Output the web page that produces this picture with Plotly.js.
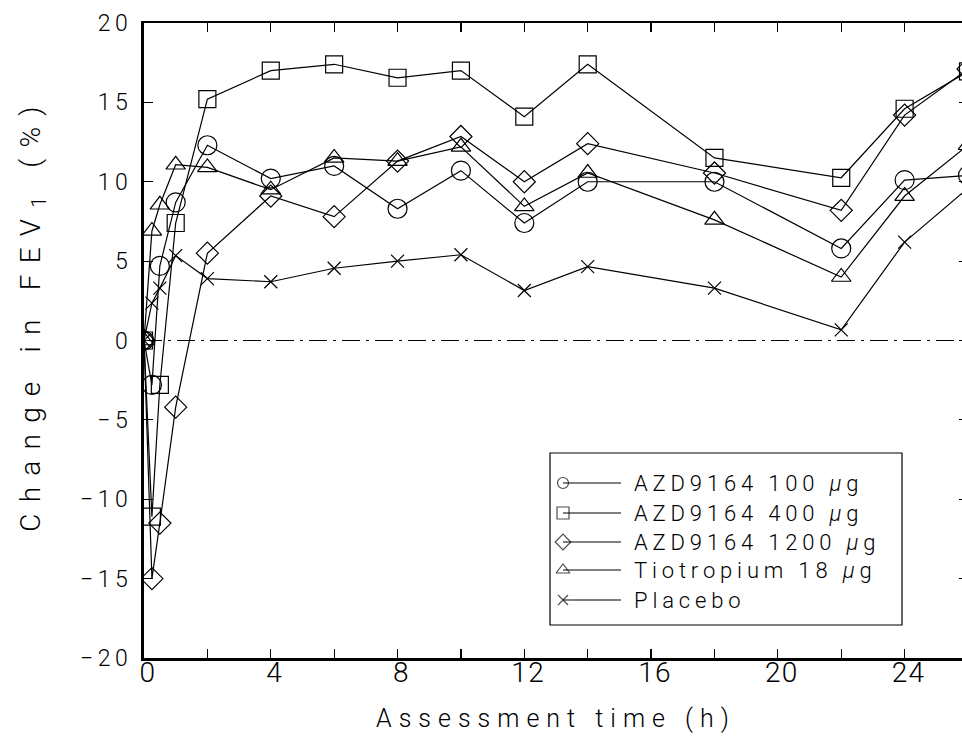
<!DOCTYPE html>
<html><head><meta charset="utf-8">
<script src="https://cdn.plot.ly/plotly-3.0.1.min.js"></script>
<style>
html,body{margin:0;padding:0;overflow:hidden;background:#fff;}
.ytick text{letter-spacing:0.2em;}
.xtick text{letter-spacing:0.05em;}
text.xtitle{letter-spacing:0.28em;}
text.ytitle{letter-spacing:0.4em;}
text.annotation-text{letter-spacing:0.22em;}
</style></head><body><div id="chart"></div>
<script>
// Assessment times (h)
const hours = [0, 0.25, 0.5, 1, 2, 4, 6, 8, 10, 12, 14, 18, 22, 24, 26];
// Change in FEV1 (%)
const azd100  = [0, -2.8, 4.7, 8.7, 12.3, 10.2, 11.0, 8.3, 10.7, 7.4, 10.0, 10.0, 5.8, 10.1, 10.4];
const azd400  = [0, -11.1, -2.8, 7.4, 15.2, 17.0, 17.4, 16.55, 17.0, 14.1, 17.4, 11.5, 10.25, 14.6, 16.95];
const azd1200 = [0, -15.0, -11.5, -4.2, 5.5, 9.1, 7.8, 11.3, 12.85, 10.0, 12.4, 10.55, 8.2, 14.2, 17.1];
const tiotropium = [0, 6.9, 8.55, 11.07, 10.9, 9.5, 11.5, 11.3, 12.2, 8.45, 10.55, 7.6, 4.0, 9.1, 12.3];
const placebo = [0, 2.35, 3.3, 5.35, 3.9, 3.7, 4.55, 5.0, 5.4, 3.15, 4.65, 3.3, 0.67, 6.2, 9.6];

const seriesNames = ['AZD9164 100 <i>μ</i>g', 'AZD9164 400 <i>μ</i>g', 'AZD9164 1200 <i>μ</i>g', 'Tiotropium 18 <i>μ</i>g', 'Placebo'];
const seriesValues = [azd100, azd400, azd1200, tiotropium, placebo];
const symbols = ['circle-open', 'square-open', 'diamond-open', 'triangle-up-open', 'x-thin-open'];
const plotSizes = [19, 17, 17, 17, 13];
const legendSizes = [11, 12, 12, 12, 10];

const traces = seriesValues.map((vals, i) => ({
  x: hours, y: vals, type: 'scatter', mode: 'lines+markers',
  name: seriesNames[i], showlegend: false,
  line: {color: '#000', width: 1.2},
  marker: {symbol: symbols[i], size: plotSizes[i], color: '#000', line: {color: '#000', width: 1.2}}
}));

// Hand-built legend, drawn on a hidden overlay axis measured in page pixels
const legRows = [483, 513, 542, 570, 600];
const annotations = [];
seriesNames.forEach((nm, i) => {
  traces.push({
    x: [563, 621], y: [legRows[i], legRows[i]], xaxis: 'x2', yaxis: 'y2',
    type: 'scatter', mode: 'lines+markers', showlegend: false, hoverinfo: 'skip', cliponaxis: false,
    line: {color: '#000', width: 1.2},
    marker: {symbol: symbols[i], size: [legendSizes[i], 0], color: '#000', line: {color: '#000', width: 1.2}}
  });
  annotations.push({
    xref: 'x2', yref: 'y2', x: 632, y: legRows[i], text: nm, showarrow: false,
    xanchor: 'left', yanchor: 'middle', align: 'left', font: {size: 22, color: '#000'}
  });
});

const layout = {
  width: 1010, height: 753,
  margin: {l: 144, r: 42, t: 23, b: 95},
  paper_bgcolor: '#fff', plot_bgcolor: '#fff',
  font: {family: 'Roboto, "Liberation Sans", sans-serif', weight: 300, color: '#000'},
  xaxis: {
    range: [0, 26], tickmode: 'linear', tick0: 0, dtick: 4,
    ticks: 'inside', ticklen: 9, tickwidth: 1.2, tickcolor: '#000',
    showline: true, linewidth: 2.5, linecolor: '#000', mirror: 'allticks',
    showgrid: false, zeroline: false,
    minor: {dtick: 2, ticks: 'inside', ticklen: 9, tickwidth: 1.2, tickcolor: '#000', showgrid: false},
    tickfont: {size: 28}, ticklabelstandoff: -12, ticklabelshift: 4,
    title: {text: 'Assessment time (h)', font: {size: 25}, standoff: 22}
  },
  yaxis: {
    range: [-20, 20], tickmode: 'linear', tick0: 0, dtick: 5,
    ticks: 'inside', ticklen: 9, tickwidth: 1.2, tickcolor: '#000',
    showline: true, linewidth: 3, linecolor: '#000', mirror: 'allticks',
    showgrid: false, zeroline: false,
    tickfont: {size: 23}, ticklabelstandoff: 4,
    title: {text: '&nbsp;&nbsp;&nbsp;Change in FEV<sub>1</sub> (%)', font: {size: 28}, standoff: 32}
  },
  xaxis2: {overlaying: 'x', anchor: 'y2', range: [144, 968], visible: false, fixedrange: true},
  yaxis2: {overlaying: 'y', anchor: 'x2', range: [658, 23], visible: false, fixedrange: true},
  shapes: [
    {type: 'line', xref: 'x', yref: 'y', x0: 0, x1: 26, y0: 0, y1: 0, layer: 'below',
     line: {color: '#000', width: 1.2, dash: '18px,6px,3px,6px'}},
    {type: 'rect', xref: 'x2', yref: 'y2', x0: 550, x1: 902, y0: 453, y1: 625, layer: 'below',
     fillcolor: '#fff', line: {color: '#000', width: 1.2}}
  ],
  annotations: annotations
};

Plotly.newPlot('chart', traces, layout, {displayModeBar: false, staticPlot: true});
</script></body></html>
